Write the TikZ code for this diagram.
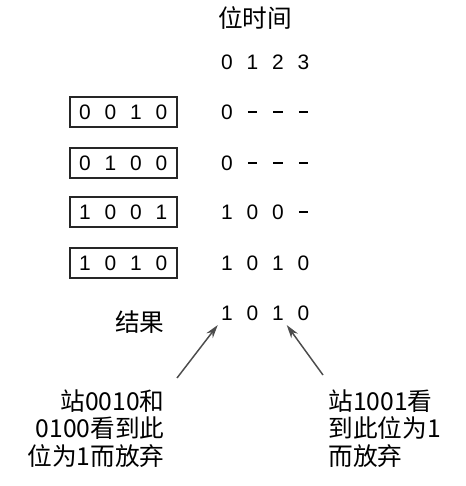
\documentclass[tikz,border=0pt]{standalone}
\usepackage{fontspec}
\setmainfont{Liberation Sans}
\newfontfamily\cjk{Noto Sans CJK SC}
\usepackage{tikz}
\usetikzlibrary{positioning, arrows.meta}

\newcommand{\nobit}{\rule[0.3em]{0.45em}{0.09em}}

\begin{document}
\begin{tikzpicture}[x=0.75pt, y=-0.75pt, >=Stealth, thick,
    bit/.style={font=\fontsize{15.7}{18}\selectfont, inner sep=3pt, text height=11.3pt, text depth=0pt},
    word/.style={draw=black!85, line width=1.4pt, minimum width=80.25pt, minimum height=22.5pt, inner sep=0pt},
    note/.style={font=\cjk\fontsize{18.5}{20.6}\selectfont, inner sep=0pt},
    hint/.style={draw=black!70, line width=1.1pt, -{Stealth[length=10pt, width=6pt]}}]
    % 边界
    \useasboundingbox (0,0) rectangle (466,486);
    \def\dx{25.5}

    % 标题与位时间
    \node[note] (title) at (255,18) {位时间};
    \foreach \b [count=\j] in {0,1,2,3}
        \node[bit] (hdr-\j) at ({227+(\j-1)*\dx}, 62) {\b};

    % 四个站及其看到的位
    \foreach \y/\code/\seen [count=\i] in {112/{0,0,1,0}/{0,\nobit,\nobit,\nobit},
                                         163/{0,1,0,0}/{0,\nobit,\nobit,\nobit},
                                         212/{1,0,0,1}/{1,0,0,\nobit},
                                         263/{1,0,1,0}/{1,0,1,0}}
    {
        \node[word] (stn-\i) at (123.5,\y) {};
        \foreach \b [count=\j] in \code
            \node[bit] (stn-\i-\j) at ({85+(\j-1)*\dx}, \y) {\b};
        \foreach \b [count=\j] in \seen
            \node[bit] (obs-\i-\j) at ({227+(\j-1)*\dx}, \y) {\b};
    }

    % 结果
    \node[note, anchor=east] (res-lbl) at (165,322) {结果};
    \foreach \b [count=\j] in {1,0,1,0}
        \node[bit] (res-\j) at ({227+(\j-1)*\dx}, 313) {\b};

    % 说明
    \node[note, align=right, anchor=north east] (why-l) at (165,389) {站0010和\\0100看到此\\位为1而放弃};
    \node[note, align=left, anchor=north west] (why-r) at (328,389) {站1001看\\到此位为1\\而放弃};

    \coordinate (tail-l) at (177,378);
    \coordinate (tail-r) at (323,375);
    \draw[hint] (tail-l) -- (res-1);
    \draw[hint] (tail-r) -- (res-3);
\end{tikzpicture}
\end{document}
